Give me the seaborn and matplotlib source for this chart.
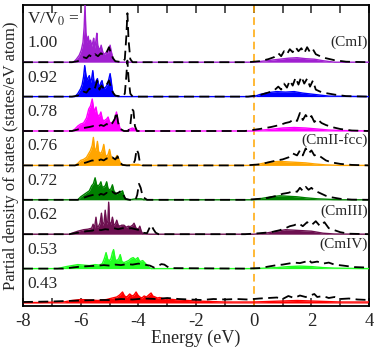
import numpy as np
import pandas as pd
import matplotlib
matplotlib.use("Agg")
import matplotlib.pyplot as plt
import seaborn as sns
from matplotlib.ticker import MultipleLocator

sns.set_style("ticks")
plt.rcParams['font.family'] = ['Liberation Serif', 'DejaVu Serif']
plt.rcParams['mathtext.fontset'] = 'stix'

ratios = ["1.00", "0.92", "0.78", "0.76", "0.72", "0.62", "0.53", "0.43"]
colors = ["#a020d0", "#0000ff", "#ff00ff", "#ffa500", "#008000", "#6d1050", "#22ff22", "#ff0000"]

# ---- filled partial DOS (coloured) ----
fill_E_100 = [-8, -6.25, -6.15, -6.05, -5.98, -5.92, -5.88, -5.85, -5.82, -5.78, -5.74, -5.70, -5.66, -5.62, -5.58, -5.55, -5.51, -5.47, -5.44, -5.41, -5.37, -5.33, -5.29, -5.26, -5.22, -5.17, -5.12, -5.07, -5.02, -4.98, -4.95, -4.9, -4.85, -4.7, 0, 0.3, 0.6, 0.9, 1.2, 1.5, 1.8, 2.1, 2.4, 2.8, 4]
fill_V_100 = [0, 0, 0.3, 0.7, 1.2, 2.0, 3.5, 5.8, 3.0, 2.0, 2.6, 1.8, 2.2, 1.6, 2.0, 2.4, 1.4, 2.2, 2.9, 1.7, 1.4, 1.2, 1.7, 1.3, 0.9, 0.8, 1.0, 0.9, 1.4, 1.7, 1.2, 0.6, 0.1, 0, 0, 0.1, 0.2, 0.3, 0.4, 0.45, 0.35, 0.3, 0.15, 0, 0]
dash_E_100 = [-8, -6.3, -6.1, -6.0, -5.9, -5.8, -5.7, -5.6, -5.5, -5.4, -5.3, -5.2, -5.1, -5.02, -4.95, -4.88, -4.8, -4.55, -4.47, -4.42, -4.38, -4.34, -4.28, -4.2, -0.2, 0.2, 0.5, 0.7, 0.85, 0.95, 1.05, 1.15, 1.25, 1.35, 1.45, 1.55, 1.65, 1.75, 1.85, 1.95, 2.05, 2.15, 2.3, 2.5, 2.8, 3.2, 4]
dash_V_100 = [0, 0, 0.1, 0.3, 0.5, 0.4, 0.7, 0.5, 0.8, 0.6, 0.9, 0.7, 1.0, 1.5, 0.9, 0.4, 0.1, 0, 0.3, 2.5, 4.9, 2.2, 0.3, 0, 0, 0.1, 0.3, 0.5, 0.9, 0.6, 1.1, 0.8, 1.3, 1.0, 1.5, 1.1, 1.4, 0.9, 1.5, 1.0, 1.3, 0.8, 0.6, 0.4, 0.2, 0.05, 0]

fill_E_092 = [-8, -6.2, -6.1, -6.0, -5.95, -5.9, -5.86, -5.82, -5.78, -5.74, -5.70, -5.66, -5.62, -5.58, -5.54, -5.5, -5.46, -5.42, -5.38, -5.34, -5.3, -5.26, -5.22, -5.18, -5.12, -5.06, -5.02, -4.98, -4.94, -4.9, -4.85, -4.7, 0, 0.2, 0.5, 0.8, 1.1, 1.4, 1.7, 2.0, 2.3, 2.6, 4]
fill_V_092 = [0, 0, 0.3, 0.8, 1.2, 2.0, 3.1, 2.2, 1.6, 1.9, 2.1, 1.4, 1.8, 2.6, 1.5, 1.3, 1.6, 1.8, 1.2, 1.0, 1.4, 1.6, 1.0, 0.8, 1.0, 1.3, 1.8, 2.3, 1.5, 0.6, 0.1, 0, 0, 0.2, 0.4, 0.5, 0.45, 0.5, 0.35, 0.25, 0.15, 0.05, 0]
dash_E_092 = [-8, -6.3, -6.1, -6.0, -5.9, -5.8, -5.7, -5.6, -5.5, -5.43, -5.35, -5.28, -5.2, -5.1, -5.02, -4.95, -4.88, -4.8, -4.55, -4.47, -4.42, -4.38, -4.34, -4.28, -4.2, -0.2, 0.2, 0.5, 0.7, 0.85, 0.95, 1.05, 1.15, 1.25, 1.35, 1.45, 1.55, 1.65, 1.75, 1.85, 1.95, 2.05, 2.15, 2.3, 2.5, 2.8, 3.2, 4]
dash_V_092 = [0, 0, 0.1, 0.3, 0.5, 0.4, 0.8, 0.6, 0.9, 1.6, 0.7, 1.1, 0.8, 1.2, 1.6, 0.9, 0.4, 0.1, 0, 0.3, 2.0, 3.6, 1.8, 0.3, 0, 0, 0.15, 0.4, 0.6, 1.0, 0.7, 1.3, 0.9, 1.6, 1.1, 1.9, 1.2, 2.0, 1.3, 1.8, 1.0, 1.6, 0.7, 0.5, 0.35, 0.2, 0.05, 0]

fill_E_078 = [-8, -6.3, -6.2, -6.1, -6.0, -5.9, -5.8, -5.72, -5.66, -5.6, -5.56, -5.52, -5.47, -5.43, -5.38, -5.34, -5.3, -5.25, -5.2, -5.15, -5.1, -5.05, -5.0, -4.95, -4.88, -4.82, -4.76, -4.7, -4.64, -4.58, -4.4, -4.3, -4.2, -4.1, -4.0, 0, 0.3, 0.7, 1.0, 1.4, 1.8, 2.2, 2.6, 3.0, 4]
fill_V_078 = [0, 0, 0.2, 0.5, 0.7, 0.8, 1.3, 2.2, 2.5, 3.2, 2.4, 1.9, 2.4, 1.7, 1.5, 1.6, 1.9, 1.2, 1.0, 1.1, 1.2, 1.4, 0.9, 0.8, 0.9, 1.2, 1.9, 1.0, 0.3, 0.05, 0, 0.2, 0.3, 0.15, 0, 0, 0.1, 0.2, 0.3, 0.35, 0.3, 0.2, 0.1, 0.05, 0]
dash_E_078 = [-8, -6.3, -6.1, -5.9, -5.7, -5.55, -5.4, -5.3, -5.2, -5.1, -5.0, -4.9, -4.82, -4.76, -4.7, -4.62, -4.5, -4.35, -4.28, -4.22, -4.17, -4.12, -4.05, -3.9, -0.3, 0.2, 0.6, 0.9, 1.1, 1.25, 1.4, 1.5, 1.6, 1.7, 1.8, 1.9, 2.0, 2.1, 2.2, 2.35, 2.5, 2.7, 3.0, 3.4, 4]
dash_V_078 = [0, 0, 0.15, 0.3, 0.4, 0.5, 0.45, 0.6, 0.5, 0.7, 0.5, 0.8, 1.2, 1.9, 0.8, 0.2, 0, 0, 0.6, 2.2, 2.0, 0.5, 0, 0, 0, 0.2, 0.4, 0.6, 0.8, 0.9, 1.2, 1.0, 1.8, 1.1, 1.6, 1.2, 1.5, 0.9, 1.2, 0.8, 0.6, 0.4, 0.2, 0.05, 0]

fill_E_076 = [-8, -6.2, -6.1, -6.0, -5.9, -5.8, -5.72, -5.66, -5.6, -5.56, -5.52, -5.47, -5.42, -5.38, -5.33, -5.28, -5.24, -5.2, -5.15, -5.1, -5.05, -5.0, -4.95, -4.88, -4.8, -4.74, -4.7, -4.65, -4.58, -4.4, -4.2, -4.0, -3.9, 0, 0.3, 0.6, 0.9, 1.2, 1.5, 1.8, 2.1, 2.5, 3.0, 4]
fill_V_076 = [0, 0, 0.2, 0.5, 0.6, 0.8, 1.2, 1.5, 2.0, 2.8, 1.7, 1.5, 2.4, 1.4, 1.2, 1.3, 1.6, 2.1, 1.1, 0.9, 1.1, 1.6, 0.9, 0.6, 0.7, 1.0, 0.8, 0.4, 0.1, 0, 0.1, 0.1, 0, 0, 0.2, 0.35, 0.4, 0.35, 0.3, 0.25, 0.15, 0.05, 0, 0]
dash_E_076 = [-8, -6.2, -6.0, -5.8, -5.6, -5.45, -5.3, -5.2, -5.1, -5.0, -4.9, -4.8, -4.72, -4.65, -4.55, -4.4, -4.2, -4.12, -4.06, -4.0, -3.95, -3.85, -0.3, 0.2, 0.5, 0.8, 1.0, 1.2, 1.35, 1.5, 1.6, 1.7, 1.8, 1.9, 2.0, 2.1, 2.2, 2.35, 2.5, 2.7, 3.0, 3.4, 4]
dash_V_076 = [0, 0, 0.15, 0.3, 0.5, 0.4, 0.6, 0.5, 0.7, 0.6, 0.8, 0.6, 0.9, 0.3, 0.05, 0, 0, 0.5, 1.6, 1.2, 0.3, 0, 0, 0.1, 0.3, 0.5, 0.6, 0.8, 1.2, 1.0, 1.5, 1.0, 1.7, 1.2, 1.5, 1.0, 1.1, 0.8, 0.5, 0.3, 0.15, 0.05, 0]

fill_E_072 = [-8, -6.1, -6.0, -5.9, -5.8, -5.7, -5.62, -5.56, -5.5, -5.45, -5.4, -5.35, -5.3, -5.25, -5.2, -5.15, -5.1, -5.05, -5.0, -4.95, -4.9, -4.85, -4.8, -4.75, -4.68, -4.6, -4.55, -4.5, -4.45, -4.3, -4.1, -3.9, -3.8, 0, 0.3, 0.6, 0.9, 1.2, 1.5, 1.8, 2.2, 2.6, 3.0, 4]
fill_V_072 = [0, 0, 0.3, 0.5, 0.7, 0.9, 1.4, 1.6, 2.2, 1.5, 1.4, 1.5, 1.8, 1.2, 1.3, 1.4, 1.8, 1.1, 1.0, 1.1, 1.5, 0.9, 0.7, 0.6, 0.7, 0.8, 0.9, 0.4, 0.05, 0, 0.1, 0.1, 0, 0, 0.15, 0.3, 0.4, 0.35, 0.3, 0.2, 0.1, 0.05, 0, 0]
dash_E_072 = [-8, -6.1, -5.9, -5.7, -5.55, -5.4, -5.3, -5.2, -5.1, -5.0, -4.9, -4.8, -4.7, -4.6, -4.52, -4.45, -4.3, -4.1, -4.04, -3.98, -3.92, -3.85, -3.7, -0.3, 0.2, 0.5, 0.8, 1.0, 1.2, 1.4, 1.5, 1.6, 1.7, 1.8, 1.9, 2.0, 2.1, 2.2, 2.35, 2.5, 2.7, 3.0, 3.4, 4]
dash_V_072 = [0, 0, 0.2, 0.4, 0.5, 0.4, 0.6, 0.5, 0.7, 0.6, 0.8, 0.6, 0.7, 0.9, 0.5, 0.1, 0, 0, 0.5, 1.6, 1.2, 0.3, 0, 0, 0.1, 0.2, 0.4, 0.6, 0.7, 0.9, 0.8, 1.2, 0.9, 1.3, 1.0, 1.2, 0.9, 0.8, 0.6, 0.4, 0.25, 0.1, 0.02, 0]

fill_E_062 = [-8, -6.4, -6.3, -6.1, -5.9, -5.75, -5.62, -5.57, -5.52, -5.47, -5.43, -5.38, -5.33, -5.28, -5.24, -5.19, -5.15, -5.1, -5.06, -5.03, -5.0, -4.95, -4.9, -4.85, -4.8, -4.75, -4.7, -4.64, -4.58, -4.5, -4.42, -4.35, -4.28, -4.2, -4.15, -4.08, -4.0, -3.95, -3.9, -3.85, -3.6, 0, 0.4, 0.8, 1.1, 1.4, 1.7, 2.0, 2.4, 2.8, 4]
fill_V_062 = [0, 0, 0.1, 0.3, 0.45, 0.5, 0.6, 1.0, 0.6, 1.7, 0.7, 0.8, 1.1, 2.1, 0.9, 1.2, 2.4, 1.0, 1.3, 3.2, 1.2, 1.0, 1.7, 0.9, 1.0, 1.4, 0.9, 0.8, 0.9, 0.9, 0.7, 0.8, 0.75, 0.9, 1.1, 0.6, 0.5, 0.8, 0.3, 0.05, 0, 0, 0.1, 0.3, 0.45, 0.4, 0.35, 0.3, 0.1, 0.02, 0]
dash_E_062 = [-8, -6.4, -6.2, -6.0, -5.8, -5.6, -5.45, -5.3, -5.15, -5.0, -4.85, -4.7, -4.55, -4.4, -4.25, -4.1, -3.95, -3.85, -3.7, -3.62, -3.55, -3.48, -3.4, -3.3, -0.3, 0.2, 0.6, 0.9, 1.1, 1.25, 1.4, 1.55, 1.7, 1.85, 2.0, 2.15, 2.3, 2.45, 2.6, 2.8, 3.0, 3.3, 4]
dash_V_062 = [0, 0, 0.1, 0.2, 0.3, 0.35, 0.5, 0.4, 0.5, 0.45, 0.6, 0.5, 0.6, 0.55, 0.6, 0.5, 0.4, 0.15, 0.1, 0.6, 0.9, 0.5, 0.15, 0, 0, 0.1, 0.2, 0.4, 0.6, 0.8, 0.9, 1.1, 0.8, 1.2, 0.9, 1.3, 0.8, 1.2, 0.6, 0.4, 0.2, 0.05, 0]

fill_E_053 = [-8, -6.8, -6.5, -6.3, -6.1, -5.9, -5.7, -5.5, -5.35, -5.25, -5.18, -5.12, -5.06, -5.0, -4.95, -4.9, -4.86, -4.8, -4.74, -4.68, -4.63, -4.57, -4.5, -4.42, -4.34, -4.26, -4.18, -4.1, -4.02, -3.95, -3.85, -3.75, -3.65, -3.55, 0, 0.4, 0.8, 1.2, 1.6, 2.0, 2.4, 2.8, 4]
fill_V_053 = [0, 0, 0.2, 0.3, 0.4, 0.35, 0.3, 0.4, 0.35, 0.5, 1.0, 1.6, 0.9, 0.8, 1.0, 1.6, 1.9, 0.9, 0.8, 1.0, 1.4, 0.7, 0.6, 0.7, 0.8, 1.0, 1.1, 0.9, 1.1, 0.7, 0.8, 0.5, 0.15, 0, 0, 0.05, 0.1, 0.2, 0.25, 0.2, 0.1, 0.05, 0]
dash_E_053 = [-8, -6.6, -6.3, -6.0, -5.7, -5.4, -5.2, -5.0, -4.8, -4.6, -4.4, -4.2, -4.0, -3.8, -3.6, -3.45, -3.3, -3.2, -3.1, -3.0, -2.9, -0.3, 0.2, 0.5, 0.8, 1.0, 1.2, 1.4, 1.6, 1.8, 1.9, 2.0, 2.2, 2.4, 2.6, 2.8, 3.1, 3.5, 4]
dash_V_053 = [0, 0, 0.1, 0.2, 0.25, 0.3, 0.35, 0.3, 0.4, 0.35, 0.45, 0.4, 0.5, 0.4, 0.3, 0.1, 0.3, 0.45, 0.4, 0.2, 0.05, 0, 0.05, 0.2, 0.35, 0.4, 0.5, 0.6, 0.55, 0.7, 0.9, 0.6, 0.7, 0.5, 0.6, 0.4, 0.3, 0.15, 0.1]

fill_E_043 = [-8, -7.5, -7.0, -6.6, -6.3, -6.0, -5.7, -5.4, -5.1, -4.9, -4.75, -4.65, -4.55, -4.48, -4.4, -4.3, -4.22, -4.15, -4.08, -4.02, -3.95, -3.88, -3.8, -3.72, -3.64, -3.56, -3.5, -3.42, -3.34, -3.26, -3.15, -3.0, -2.8, -2.6, -2.3, -2.0, -1.5, -1.0, 0, 0.5, 1.0, 1.5, 2.0, 2.5, 3.0, 4]
fill_V_043 = [0.05, 0.05, 0.08, 0.1, 0.25, 0.35, 0.3, 0.25, 0.35, 0.5, 0.6, 0.8, 1.1, 0.7, 0.6, 0.9, 0.7, 0.8, 1.1, 0.8, 0.6, 0.5, 0.7, 0.6, 0.8, 1.0, 0.7, 0.6, 0.5, 0.55, 0.45, 0.4, 0.35, 0.3, 0.25, 0.2, 0.15, 0.1, 0.1, 0.15, 0.2, 0.25, 0.2, 0.15, 0.1, 0.1]
dash_E_043 = [-8, -7.0, -6.5, -6.0, -5.5, -5.0, -4.6, -4.2, -3.8, -3.4, -3.0, -2.6, -2.2, -1.8, -1.4, -1.0, -0.6, -0.2, 0.2, 0.5, 0.8, 1.0, 1.2, 1.4, 1.6, 1.8, 2.0, 2.1, 2.2, 2.4, 2.6, 2.8, 3.0, 3.3, 3.6, 4]
dash_V_043 = [0.1, 0.15, 0.2, 0.25, 0.3, 0.3, 0.4, 0.35, 0.45, 0.4, 0.5, 0.4, 0.35, 0.3, 0.4, 0.35, 0.4, 0.35, 0.45, 0.5, 0.55, 0.4, 0.7, 0.5, 0.75, 0.6, 0.8, 0.9, 0.6, 0.7, 0.5, 0.6, 0.4, 0.45, 0.35, 0.3]

fills = [(fill_E_100, fill_V_100), (fill_E_092, fill_V_092), (fill_E_078, fill_V_078),
         (fill_E_076, fill_V_076), (fill_E_072, fill_V_072), (fill_E_062, fill_V_062),
         (fill_E_053, fill_V_053), (fill_E_043, fill_V_043)]
dashes = [(dash_E_100, dash_V_100), (dash_E_092, dash_V_092), (dash_E_078, dash_V_078),
          (dash_E_076, dash_V_076), (dash_E_072, dash_V_072), (dash_E_062, dash_V_062),
          (dash_E_053, dash_V_053), (dash_E_043, dash_V_043)]

phase_labels = [("(CmI)", 0, 2.0), ("(CmII-fcc)", 3, 2.5), ("(CmIII)", 5, 2.3), ("(CmIV)", 6, 2.4)]

fig = plt.figure(figsize=(3.74, 3.5), dpi=100)
ax = fig.add_axes([0.0615, 0.1257, 0.9255, 0.86])

n = len(ratios)
spacing = 3.44
for i in range(n):
    off = 0.3 + spacing * (n - 1 - i)
    fe, fv = fills[i]
    de, dv = dashes[i]
    dff = pd.DataFrame({"E": fe, "y": np.array(fv) + off})
    dfd = pd.DataFrame({"E": de, "y": np.array(dv) + off})
    ax.fill_between(dff["E"], off, dff["y"], color=colors[i], lw=0, zorder=2)
    sns.lineplot(data=dff, x="E", y="y", ax=ax, color=colors[i], lw=1.0,
                 estimator=None, sort=False, zorder=3)
    sns.lineplot(data=dfd, x="E", y="y", ax=ax, color="black", lw=1.3,
                 estimator=None, sort=False, zorder=4)
    ax.lines[-1].set_dashes([5.5, 3])
    ax.text(-7.85, off + 1.9, ratios[i], fontsize=12.5, ha="left", va="center")

for lab, idx, dy in phase_labels:
    off = 0.3 + spacing * (n - 1 - idx)
    ax.text(3.95, off + dy, lab, fontsize=11, ha="right", va="center")

ax.text(-7.85, 28.7, r"V/V$_0$ =", fontsize=12.5, ha="left", va="center")

ax.axvline(0, color="#ffa500", lw=1.1, dashes=[5, 3], zorder=1)

ax.set_xlim(-8, 4)
ax.set_ylim(0, 30.1)
ax.set_yticks([])
ax.xaxis.set_major_locator(MultipleLocator(2))
ax.xaxis.set_minor_locator(MultipleLocator(1))
ax.tick_params(axis="x", which="both", direction="in", top=True, bottom=True, labelsize=13.5, pad=5)
ax.tick_params(axis="x", which="major", length=6, width=1.1)
ax.tick_params(axis="x", which="minor", length=6, width=1.1)
ax.set_xticks([-8, -6, -4, -2, 0, 2, 4])
ax.set_xticklabels(["-8", "-6", "-4", "-2", "0", "2", "4"])
for s in ax.spines.values():
    s.set_linewidth(1.3)
    s.set_color("black")
ax.set_xlabel("Energy (eV)", fontsize=13, labelpad=0)
ax.set_ylabel("Partial density of states (states/eV atom)", fontsize=12, labelpad=3)

fig.savefig("out.png", dpi=100)
